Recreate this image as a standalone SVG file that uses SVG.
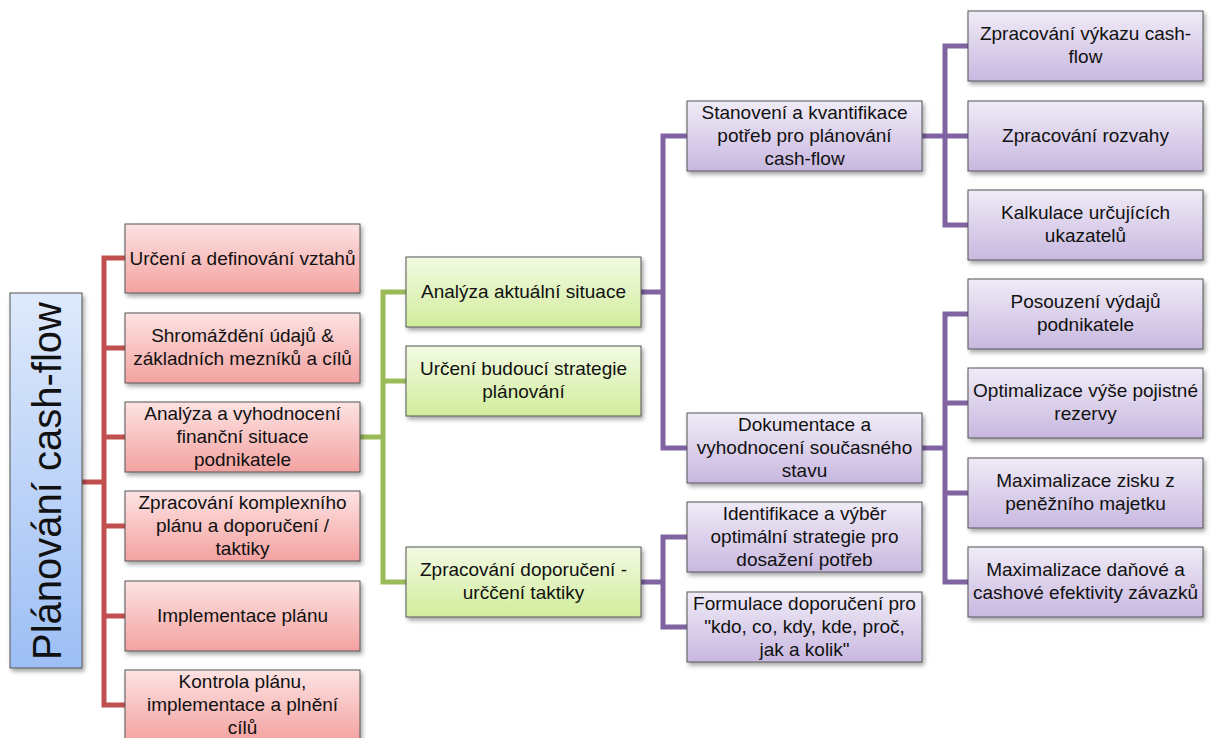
<svg xmlns="http://www.w3.org/2000/svg" width="1215" height="738" viewBox="0 0 1215 738">
<defs>
<linearGradient id="gRed" x1="0" y1="0" x2="0" y2="1"><stop offset="0" stop-color="#FDE3E3"/><stop offset="1" stop-color="#F3A2A0"/></linearGradient>
<linearGradient id="gGreen" x1="0" y1="0" x2="0" y2="1"><stop offset="0" stop-color="#F2FAE3"/><stop offset="1" stop-color="#D2ED9C"/></linearGradient>
<linearGradient id="gPurple" x1="0" y1="0" x2="0" y2="1"><stop offset="0" stop-color="#F0EBF7"/><stop offset="1" stop-color="#C8B8E0"/></linearGradient>
<linearGradient id="gBlue" x1="0" y1="0" x2="0" y2="1"><stop offset="0" stop-color="#DEE9FB"/><stop offset="1" stop-color="#9DBFF5"/></linearGradient>
<filter id="sh" x="-10%" y="-10%" width="130%" height="140%"><feDropShadow dx="2" dy="3" stdDeviation="2" flood-color="#000" flood-opacity="0.35"/></filter>
</defs>
<style>
.box{stroke:#555;stroke-width:1;filter:url(#sh)}
.red{fill:url(#gRed)}
.green{fill:url(#gGreen)}
.purple{fill:url(#gPurple)}
.blue{fill:url(#gBlue)}
.t{font-family:"Liberation Sans",Arial,sans-serif;font-size:19px;fill:#111;text-anchor:middle}
.root{font-family:"Liberation Sans",Arial,sans-serif;font-size:40px;fill:#111;text-anchor:middle}
.c{fill:none;stroke-width:5;stroke-linejoin:miter;stroke-linecap:butt}
.cr{stroke:#C0504D}
.cg{stroke:#9BBB59}
.cp{stroke:#8064A2}
</style>
<rect width="1215" height="738" fill="#fff"/>
<g id="connectors">
<path class="c cr" d="M82 482H104M125 258H104V705H125M104 348H125M104 437H125M104 526H125M104 616H125"/>
<path class="c cg" d="M360 437H383M406 292H383V582H406M383 381H406"/>
<path class="c cp" d="M641 292H663M687 136H663V448H687"/>
<path class="c cp" d="M641 582H663M687 537H663V627H687"/>
<path class="c cp" d="M922 136H945M968 46H945V225H968M945 136H968"/>
<path class="c cp" d="M922 448H945M968 314H945V582H968M945 403H968M945 493H968"/>
</g>
<g id="root"><rect class="box blue" x="10" y="293" width="72" height="375"/><text class="root" transform="translate(61,481) rotate(-90)">Plánování cash-flow</text></g>
<g id="r1"><rect class="box red" x="125" y="224" width="235" height="69"/><text class="t" x="242.5" y="265">Určení a definování vztahů</text></g>
<g id="r2"><rect class="box red" x="125" y="313" width="235" height="70"/><text class="t" x="242.5" y="342">Shromáždění údajů &amp;</text><text class="t" x="242.5" y="365">základních mezníků a cílů</text></g>
<g id="r3"><rect class="box red" x="125" y="402" width="235" height="70"/><text class="t" x="242.5" y="420">Analýza a vyhodnocení</text><text class="t" x="242.5" y="443">finanční situace</text><text class="t" x="242.5" y="466">podnikatele</text></g>
<g id="r4"><rect class="box red" x="125" y="491" width="235" height="70"/><text class="t" x="242.5" y="509">Zpracování komplexního</text><text class="t" x="242.5" y="532">plánu a doporučení /</text><text class="t" x="242.5" y="555">taktiky</text></g>
<g id="r5"><rect class="box red" x="125" y="581" width="235" height="70"/><text class="t" x="242.5" y="622">Implementace plánu</text></g>
<g id="r6"><rect class="box red" x="125" y="670" width="235" height="72"/><text class="t" x="242.5" y="688">Kontrola plánu,</text><text class="t" x="242.5" y="711">implementace a plnění</text><text class="t" x="242.5" y="734">cílů</text></g>
<g id="g1"><rect class="box green" x="406" y="257" width="235" height="70"/><text class="t" x="523.5" y="298">Analýza aktuální situace</text></g>
<g id="g2"><rect class="box green" x="406" y="346" width="235" height="70"/><text class="t" x="523.5" y="375">Určení budoucí strategie</text><text class="t" x="523.5" y="398">plánování</text></g>
<g id="g3"><rect class="box green" x="406" y="547" width="235" height="70"/><text class="t" x="523.5" y="576">Zpracování doporučení -</text><text class="t" x="523.5" y="599">urččení taktiky</text></g>
<g id="p1"><rect class="box purple" x="687" y="101" width="235" height="70"/><text class="t" x="804.5" y="119">Stanovení a kvantifikace</text><text class="t" x="804.5" y="142">potřeb pro plánování</text><text class="t" x="804.5" y="165">cash-flow</text></g>
<g id="p2"><rect class="box purple" x="687" y="413" width="235" height="70"/><text class="t" x="804.5" y="431">Dokumentace a</text><text class="t" x="804.5" y="454">vyhodnocení současného</text><text class="t" x="804.5" y="477">stavu</text></g>
<g id="p3"><rect class="box purple" x="687" y="502" width="235" height="70"/><text class="t" x="804.5" y="520">Identifikace a výběr</text><text class="t" x="804.5" y="543">optimální strategie pro</text><text class="t" x="804.5" y="566">dosažení potřeb</text></g>
<g id="p4"><rect class="box purple" x="687" y="592" width="235" height="70"/><text class="t" x="804.5" y="610">Formulace doporučení pro</text><text class="t" x="804.5" y="633">"kdo, co, kdy, kde, proč,</text><text class="t" x="804.5" y="656">jak a kolik"</text></g>
<g id="q1"><rect class="box purple" x="968" y="11" width="235" height="70"/><text class="t" x="1085.5" y="40">Zpracování výkazu cash-</text><text class="t" x="1085.5" y="63">flow</text></g>
<g id="q2"><rect class="box purple" x="968" y="101" width="235" height="70"/><text class="t" x="1085.5" y="142">Zpracování rozvahy</text></g>
<g id="q3"><rect class="box purple" x="968" y="190" width="235" height="70"/><text class="t" x="1085.5" y="219">Kalkulace určujících</text><text class="t" x="1085.5" y="242">ukazatelů</text></g>
<g id="q4"><rect class="box purple" x="968" y="279" width="235" height="70"/><text class="t" x="1085.5" y="308">Posouzení výdajů</text><text class="t" x="1085.5" y="331">podnikatele</text></g>
<g id="q5"><rect class="box purple" x="968" y="368" width="235" height="70"/><text class="t" x="1085.5" y="397">Optimalizace výše pojistné</text><text class="t" x="1085.5" y="420">rezervy</text></g>
<g id="q6"><rect class="box purple" x="968" y="458" width="235" height="70"/><text class="t" x="1085.5" y="487">Maximalizace zisku z</text><text class="t" x="1085.5" y="510">peněžního majetku</text></g>
<g id="q7"><rect class="box purple" x="968" y="547" width="235" height="70"/><text class="t" x="1085.5" y="576">Maximalizace daňové a</text><text class="t" x="1085.5" y="599">cashové efektivity závazků</text></g>
</svg>
